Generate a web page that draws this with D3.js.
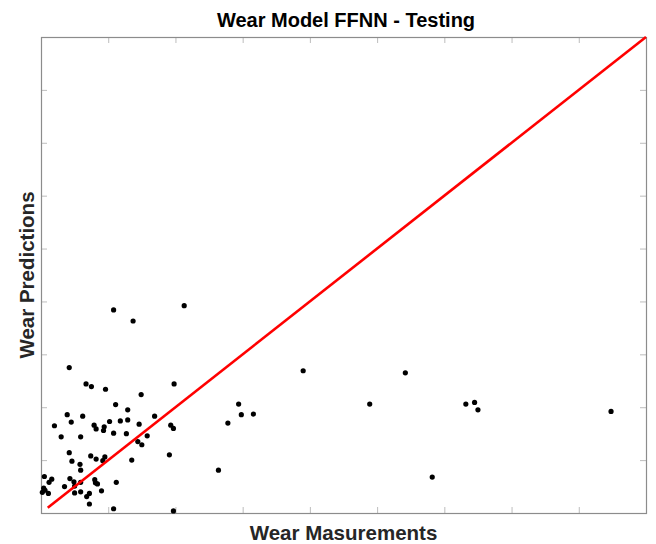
<!DOCTYPE html>
<html>
<head>
<meta charset="utf-8">
<script src="https://cdn.jsdelivr.net/npm/d3@7"></script>
<style>
  body { margin: 0; background: #fff; }
  svg { display: block; font-family: "Liberation Sans", Arial, sans-serif; }
</style>
</head>
<body>
<svg></svg>
<script>
var width = 656;
var height = 544;
var margin = { top: 37, right: 10, bottom: 31, left: 41 };
var plotW = 605;
var plotH = 476;

var measured = [1.08, 2.13, 1.37, 0.42, 0.67, 0.75, 0.96, 1.98, 1.49, 1.11,
	1.29, 0.39, 0.62, 1.69, 0.45, 1.02, 1.18, 1.29, 0.20, 0.79,
	0.82, 0.94, 0.93, 1.46, 1.93, 1.97, 1.08, 1.27, 1.58, 0.30,
	0.59, 1.44, 1.50, 0.42, 0.74, 0.95, 0.46, 0.82, 0.92, 1.35,
	1.91, 0.58, 0.59, 0.05, 0.16, 0.12, 0.43, 0.49, 0.59, 0.35,
	0.50, 0.80, 0.81, 0.84, 1.12, 0.04, 0.02, 0.06, 0.11, 0.50,
	0.59, 0.72, 0.68, 0.90, 0.72, 1.08, 1.97, 2.64, 2.78, 2.94,
	2.98, 3.16, 3.90, 4.89, 5.42, 5.82, 6.32, 6.45, 6.50, 8.48];
var predicted = [3.84, 3.92, 3.63, 2.75, 2.44, 2.39, 2.34, 2.44, 2.24, 2.05,
	1.95, 1.86, 1.83, 1.83, 1.72, 1.73, 1.74, 1.76, 1.65, 1.66,
	1.59, 1.63, 1.56, 1.68, 1.66, 1.60, 1.51, 1.50, 1.46, 1.44,
	1.44, 1.35, 1.29, 1.14, 1.08, 1.06, 0.98, 1.02, 0.99, 1.00,
	1.10, 0.92, 0.81, 0.69, 0.64, 0.58, 0.65, 0.59, 0.58, 0.50,
	0.51, 0.63, 0.57, 0.55, 0.58, 0.47, 0.39, 0.43, 0.37, 0.38,
	0.40, 0.37, 0.31, 0.42, 0.17, 0.08, 0.04, 0.81, 1.70, 2.06,
	1.86, 1.87, 2.69, 2.06, 2.65, 0.68, 2.06, 2.09, 1.95, 1.92];
var fitLine = [0.1, 9];
var xTicks = [1, 2, 3, 4, 5, 6, 7, 8];
var yTicks = [1, 2, 3, 4, 5, 6, 7, 8];

var points = measured.map(function(m, i) { return { x: m, y: predicted[i] }; });

var svg = d3.select('svg')
	.attr('width', width)
	.attr('height', height);

var x = d3.scaleLinear()
	.range([0, plotW])
	.domain([0, 9]);

var y = d3.scaleLinear()
	.range([plotH, 0])
	.domain([0, 9]);

var g = svg.append('g')
	.attr('transform', `translate(${margin.left},${margin.top})`);

// ticks point inward on all four sides, no labels
function styleAxis(sel) {
	sel.select('.domain').remove();
	sel.selectAll('text').remove();
	sel.selectAll('line').attr('stroke', '#bdbdbd').attr('stroke-width', 1);
}

g.append('g')
	.attr('transform', `translate(0,${plotH})`)
	.call(d3.axisBottom(x).tickValues(xTicks).tickSize(-6))
	.call(styleAxis);
g.append('g')
	.call(d3.axisTop(x).tickValues(xTicks).tickSize(-6))
	.call(styleAxis);
g.append('g')
	.call(d3.axisLeft(y).tickValues(yTicks).tickSize(-6))
	.call(styleAxis);
g.append('g')
	.attr('transform', `translate(${plotW},0)`)
	.call(d3.axisRight(y).tickValues(yTicks).tickSize(-6))
	.call(styleAxis);

g.append('rect')
	.attr('x', 0.5)
	.attr('y', 0.5)
	.attr('width', plotW)
	.attr('height', plotH)
	.attr('fill', 'none')
	.attr('stroke', '#8c8c8c')
	.attr('stroke-width', 1.2);

g.selectAll('circle')
	.data(points)
	.enter()
	.append('circle')
	.attr('cx', function(d) { return x(d.x); })
	.attr('cy', function(d) { return y(d.y); })
	.attr('r', 2.6)
	.attr('fill', '#000');

var lineFunction = d3.line()
	.x(function(d) { return x(d); })
	.y(function(d) { return y(d); });

g.append('path')
	.attr('d', lineFunction(fitLine))
	.attr('stroke', '#ff0000')
	.attr('stroke-width', 2.6)
	.attr('fill', 'none');

svg.append('text')
	.attr('x', 346)
	.attr('y', 27)
	.attr('text-anchor', 'middle')
	.attr('font-size', 20)
	.attr('font-weight', 'bold')
	.attr('fill', '#000')
	.text('Wear Model FFNN - Testing');

svg.append('text')
	.attr('x', margin.left + plotW / 2)
	.attr('y', 540)
	.attr('text-anchor', 'middle')
	.attr('font-size', 20.5)
	.attr('font-weight', 'bold')
	.attr('fill', '#262626')
	.text('Wear Masurements');

svg.append('text')
	.attr('transform', `translate(34,${margin.top + plotH / 2}) rotate(-90)`)
	.attr('text-anchor', 'middle')
	.attr('font-size', 20.5)
	.attr('font-weight', 'bold')
	.attr('fill', '#262626')
	.text('Wear Predictions');
</script>
</body>
</html>
